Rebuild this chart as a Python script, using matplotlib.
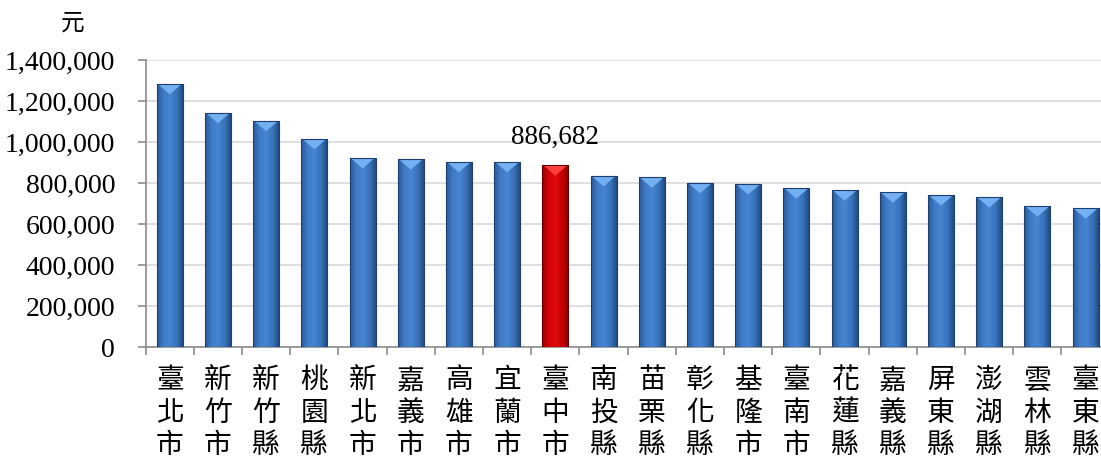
import matplotlib
matplotlib.use("Agg")
import matplotlib.pyplot as plt
import numpy as np
from matplotlib.colors import LinearSegmentedColormap
from matplotlib.patches import Polygon
from matplotlib.ticker import FuncFormatter, MultipleLocator

categories = ["臺北市", "新竹市", "新竹縣", "桃園縣", "新北市", "嘉義市", "高雄市", "宜蘭市",
              "臺中市", "南投縣", "苗栗縣", "彰化縣", "基隆市", "臺南市", "花蓮縣", "嘉義縣",
              "屏東縣", "澎湖縣", "雲林縣", "臺東縣"]
values = [1283000, 1142000, 1103000, 1015000, 922000, 916000, 903000, 903000,
          886682, 835000, 828000, 801000, 795000, 775000, 765000, 755000,
          741000, 731000, 687000, 677000]
highlight = "臺中市"
unit_label = "元"

fig = plt.figure(figsize=(11.01, 4.58), dpi=100)
ax = fig.add_axes([0.1323, 0.2417, 0.8756, 0.6273])

x = np.arange(len(categories))
blue_cmap = LinearSegmentedColormap.from_list("b", ["#2a5894", "#3f7cc9", "#4685d0", "#3670b8", "#1f4577"])
red_cmap = LinearSegmentedColormap.from_list("r", ["#9a0000", "#d40404", "#e00a0a", "#c40000", "#8a0000"])

bars = ax.bar(x, values, width=0.54, color="#3a74c0", zorder=3)
ax.set_xlim(-0.5, len(categories) - 0.5)
ax.set_ylim(0, 1400000)

grad = np.linspace(0, 1, 256).reshape(1, -1)
tri_h = 1400000 * 0.036
for b, cat in zip(bars, categories):
    bx, bw, bh = b.get_x(), b.get_width(), b.get_height()
    cmap = red_cmap if cat == highlight else blue_cmap
    b.set_facecolor("none")
    im = ax.imshow(grad, cmap=cmap, aspect="auto", extent=(bx, bx + bw, 0, bh), zorder=3)
    im.set_clip_path(b)
    light = "#ff4040" if cat == highlight else "#72b0f2"
    tri = Polygon([[bx + bw * 0.04, bh], [bx + bw * 0.96, bh], [bx + bw / 2, bh - tri_h]], closed=True,
                  facecolor=light, edgecolor="none", zorder=4)
    ax.add_patch(tri)
    edge = "#5e0000" if cat == highlight else "#1d3f6e"
    ax.add_patch(plt.Rectangle((bx, 0), bw, bh, fill=False, edgecolor=edge, linewidth=0.8, zorder=5))

ax.set_xlim(-0.5, len(categories) - 0.5)
ax.set_ylim(0, 1400000)

ax.yaxis.set_major_locator(MultipleLocator(200000))
ax.yaxis.set_major_formatter(FuncFormatter(lambda v, p: f"{int(v):,}"))
ax.grid(axis="y", color="#d9d9d9", linewidth=1.2, zorder=0)
ax.set_axisbelow(True)

for s in ["top", "right"]:
    ax.spines[s].set_visible(False)
for s in ["left", "bottom"]:
    ax.spines[s].set_color("#8c8c8c")
    ax.spines[s].set_linewidth(1.2)

ax.set_xticks(np.arange(len(categories) + 1) - 0.5, minor=False)
ax.set_xticklabels([])
ax.tick_params(axis="x", which="major", length=6, color="#8c8c8c", width=1.2, direction="out")
ax.set_xticks(x, minor=True)
ax.set_xticklabels(["\n".join(c) for c in categories], minor=True,
                   family=["Noto Sans CJK TC", "DejaVu Sans"], fontsize=20, linespacing=1.1)
ax.tick_params(axis="x", which="minor", length=0, pad=13)
ax.tick_params(axis="y", length=6, color="#8c8c8c", width=1.2, labelsize=20, pad=16)
for lab in ax.get_yticklabels():
    lab.set_family("Liberation Serif")

hi = categories.index(highlight)
ax.annotate(f"{values[hi]:,}", (x[hi], values[hi]), xytext=(0, 11), textcoords="offset points",
            ha="center", va="bottom", fontsize=19.5, family="Liberation Serif")

fig.text(0.066, 0.950, unit_label, family=["Noto Sans CJK TC", "DejaVu Sans"], fontsize=17,
         ha="center", va="center")

fig.savefig("out.png", dpi=100)
